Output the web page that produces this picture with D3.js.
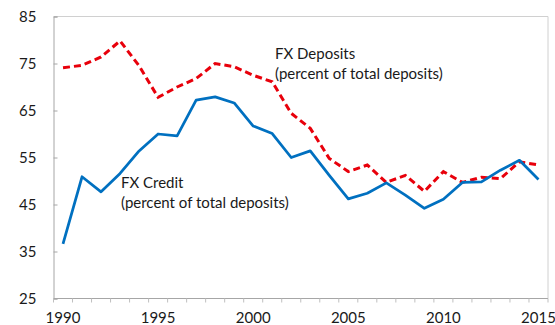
<!DOCTYPE html>
<html>
<head>
<meta charset="utf-8">
<script src="https://cdn.jsdelivr.net/npm/d3@7/dist/d3.min.js"></script>
<style>
  html, body { margin: 0; padding: 0; background: #fff; }
  svg { display: block; }
  text { font-family: Lato, "Liberation Sans", sans-serif; fill: #1a1a1a; }
</style>
</head>
<body>
<svg id="chart" width="555" height="325"></svg>
<script>
// Annual observations, 1990–2015
const years = d3.range(1990, 2016);
const fxDeposits = [74.1, 74.6, 76.4, 79.8, 74.5, 67.8, 70.0, 71.8, 75.0, 74.3, 72.5, 71.1,
                    64.4, 61.2, 54.8, 52.0, 53.4, 49.7, 51.2, 47.8, 52.0, 49.7, 50.8, 50.5, 54.1, 53.4];
const fxCredit   = [36.6, 50.9, 47.7, 51.6, 56.4, 60.0, 59.6, 67.2, 67.9, 66.6, 61.7, 60.1,
                    55.0, 56.4, 51.2, 46.2, 47.4, 49.6, 47.0, 44.2, 46.1, 49.7, 49.8, 52.3, 54.4, 50.3];
const yTicks = [25, 35, 45, 55, 65, 75, 85];
const xLabels = [1990, 1995, 2000, 2005, 2010, 2015];

const svg = d3.select("#chart");
const margin = { left: 53.5, right: 7, top: 16.5, bottom: 26.5 };
const W = 555, H = 325;

const x = d3.scaleBand().domain(years).range([margin.left, W - margin.right]);
const y = d3.scaleLinear().domain([25, 85]).range([H - margin.bottom, margin.top]);
const cx = d => x(d) + x.bandwidth() / 2;

// plot area frame (top and right)
svg.append("path")
  .attr("d", `M${margin.left},${margin.top}H${W - margin.right}V${H - margin.bottom}`)
  .attr("fill", "none").attr("stroke", "#d0d0d0").attr("stroke-width", 1);

// y axis
const yAxis = svg.append("g")
  .attr("transform", `translate(${margin.left},0)`)
  .call(d3.axisLeft(y).tickValues(yTicks).tickSize(-4).tickPadding(17));
yAxis.select(".domain").attr("stroke", "#a6a6a6");
yAxis.selectAll(".tick line").attr("stroke", "#a6a6a6");
yAxis.selectAll("text").attr("font-size", 15).style("font-family", "Lato, sans-serif").attr("fill", "#1a1a1a");

// x axis: ticks on category boundaries, labels centred on categories
const xAxisG = svg.append("g").attr("transform", `translate(0,${H - margin.bottom})`);
xAxisG.append("line")
  .attr("x1", margin.left).attr("x2", W - margin.right)
  .attr("stroke", "#a6a6a6");
xAxisG.selectAll("line.tk")
  .data(years.concat([2016]))
  .join("line").attr("class", "tk")
  .attr("x1", d => d === 2016 ? W - margin.right : x(d))
  .attr("x2", d => d === 2016 ? W - margin.right : x(d))
  .attr("y1", 0).attr("y2", 4)
  .attr("stroke", "#bfbfbf");
xAxisG.selectAll("text")
  .data(xLabels)
  .join("text")
  .attr("x", d => cx(d))
  .attr("y", 24)
  .attr("text-anchor", "middle")
  .attr("font-size", 15)
  .text(d => d);

const line = d3.line().x((d, i) => cx(years[i])).y(d => y(d));

// FX deposits (dashed red)
svg.append("path")
  .datum(fxDeposits)
  .attr("d", line)
  .attr("fill", "none")
  .attr("stroke", "#e8000b")
  .attr("stroke-width", 3)
  .attr("stroke-dasharray", "7,4");

// FX credit (solid blue)
svg.append("path")
  .datum(fxCredit)
  .attr("d", line)
  .attr("fill", "none")
  .attr("stroke", "#0070c0")
  .attr("stroke-width", 2.75)
  .attr("stroke-linejoin", "round");

// series annotations
function note(xp, yp, lines) {
  const t = svg.append("text").attr("x", xp).attr("y", yp).attr("font-size", 15);
  lines.forEach((s, i) => t.append("tspan").attr("x", xp).attr("dy", i ? 20 : 0).text(s));
}
note(275, 59, ["FX Deposits", "(percent of total deposits)"]);
note(121, 188, ["FX Credit", "(percent of total deposits)"]);
</script>
</body>
</html>
